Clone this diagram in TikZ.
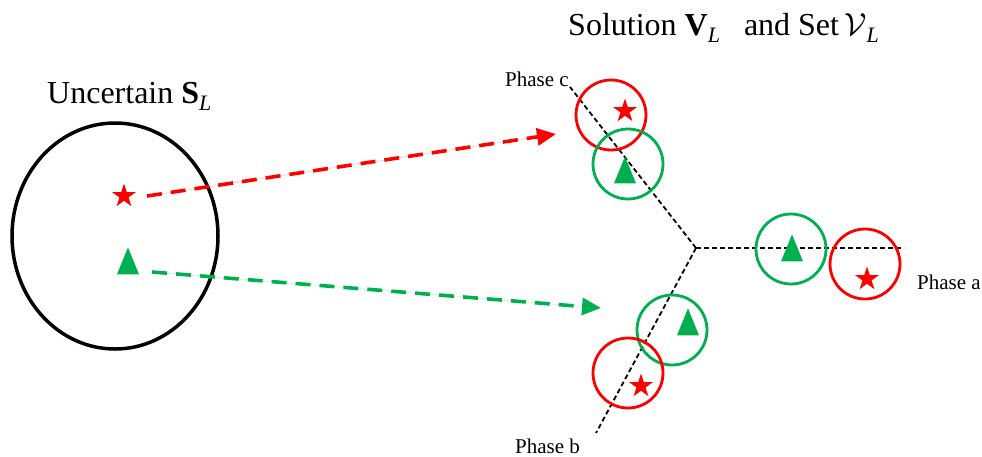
\documentclass[tikz,border=0pt]{standalone}
\usepackage{fix-cm}
\usepackage{fontspec}
\setmainfont{Liberation Serif}
\usetikzlibrary{arrows.meta,shapes.geometric}
\definecolor{xgreen}{RGB}{0,176,80}
\definecolor{xred}{RGB}{255,0,0}
\newcommand\subL{\raisebox{-0.22em}{\fontsize{22}{22}\selectfont\itshape L}}
\begin{document}
\begin{tikzpicture}[x=1pt,y=-1pt,
  bigtxt/.style={font=\fontsize{32}{38}\selectfont, inner sep=0, anchor=base west},
  phtxt/.style={font=\fontsize{21}{25}\selectfont, inner sep=0, anchor=base west},
  starmark/.style={star, star points=5, star point ratio=2.618, fill=xred, draw=none, minimum size=25pt, inner sep=0},
  trimark/.style={isosceles triangle, isosceles triangle stretches, shape border rotate=90, fill=xgreen, draw=none, minimum width=22pt, minimum height=27pt, inner sep=0},
  redring/.style={circle, draw=xred, line width=2.8pt, minimum size=70pt, inner sep=0},
  greenring/.style={circle, draw=xgreen, line width=2.8pt, minimum size=70pt, inner sep=0},
  phaseline/.style={line width=1.8pt, dash pattern=on 5pt off 3pt},
  maparrow/.style={line width=3.6pt, dash pattern=on 15pt off 9pt, -{Triangle[length=19pt,width=17pt]}}]
\useasboundingbox (0,0) rectangle (982,456);

% uncertain set
\node[ellipse, draw=black, line width=3.5pt, minimum width=206pt, minimum height=226pt, inner sep=0] (unc) at (115,236) {};
\node[bigtxt] (unclbl) at (47,103) {Uncertain \textbf{S}\subL};
\node[starmark] (s0) at (124,196) {};
\node[trimark] (t0) at (128,267) {};

% title
\node[bigtxt] (title) at (568,35) {Solution \textbf{V}\subL\hspace{0.5em} and Set\,$\mathcal{V}$\subL};

% phase lines
\coordinate (hub) at (696,248);
\coordinate (pa) at (904,248);
\coordinate (pb) at (596,433);
\coordinate (pc) at (570,87);
\draw[phaseline] (hub) -- (pa);
\draw[phaseline] (hub) -- (pb);
\draw[phaseline] (hub) -- (pc);
\node[phtxt] (la) at (917,289) {Phase a};
\node[phtxt] (lb) at (515,453) {Phase b};
\node[phtxt] (lc) at (505,86) {Phase c};

% rings
\node[redring] (rc) at (611,115) {};
\node[greenring] (gc) at (628,164) {};
\node[greenring] (gb) at (672,330) {};
\node[redring] (rb) at (628,373) {};
\node[greenring] (ga) at (791,249) {};
\node[redring] (ra) at (865,264) {};

\node[starmark] (sc) at (625,111) {};
\node[starmark] (sb) at (641,386) {};
\node[starmark] (sa) at (867,279) {};
\node[trimark] (tc) at (625,176) {};
\node[trimark] (tb) at (688,328) {};
\node[trimark] (ta) at (792,254) {};

% mapping arrows
\coordinate (rs) at (147,196);
\coordinate (rt) at (556,134);
\coordinate (gs) at (152,272);
\coordinate (gt) at (601,308);
\draw[maparrow, draw=xred, fill=xred] (rs) -- (rt);
\draw[maparrow, draw=xgreen, fill=xgreen] (gs) -- (gt);
\end{tikzpicture}
\end{document}
